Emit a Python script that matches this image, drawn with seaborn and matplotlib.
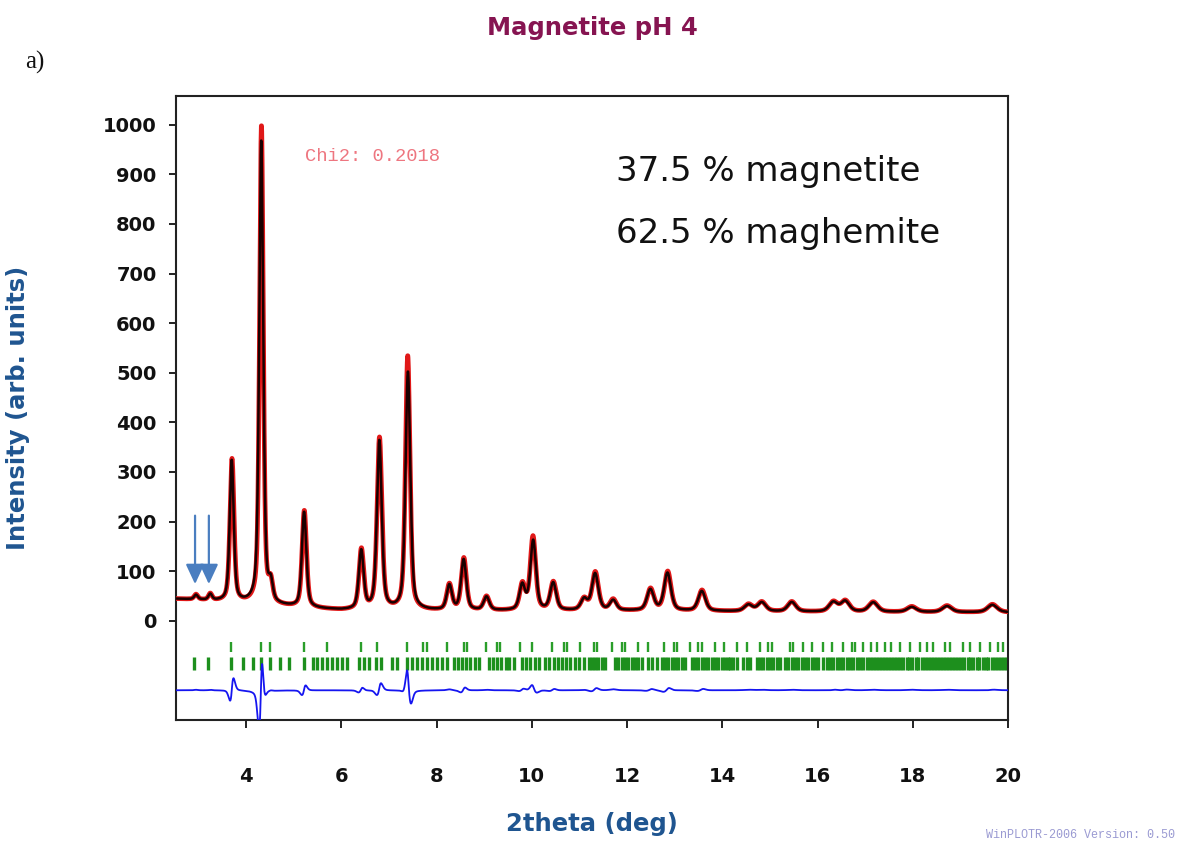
import numpy as np
import pandas as pd
import matplotlib
matplotlib.use("Agg")
import matplotlib.pyplot as plt
import seaborn as sns

# ---- Rietveld fit summary: peak list (2theta, height above background, FWHM) ----
peak_pos = [2.95, 3.25, 3.70, 4.32, 4.52, 5.22, 6.42, 6.80, 7.40, 8.27, 8.57, 9.05,
            9.80, 10.03, 10.45, 11.10, 11.33, 11.71, 12.49, 12.85, 13.57, 14.55,
            14.83, 15.46, 16.33, 16.58, 17.17, 17.98, 18.72, 19.67]
calc_height = [9, 12, 285, 935, 35, 192, 118, 340, 480, 50, 102, 27,
               50, 140, 55, 22, 74, 20, 42, 76, 40, 13,
               18, 19, 19, 21, 19, 10, 12, 15]
obs_height = [10, 13, 288, 965, 37, 195, 121, 346, 512, 52, 105, 28,
              52, 148, 57, 23, 77, 22, 44, 79, 42, 14,
              19, 20, 20, 22, 20, 11, 13, 16]
peak_fwhm = [0.09, 0.09, 0.10, 0.10, 0.10, 0.11, 0.12, 0.12, 0.12, 0.13, 0.13, 0.14,
             0.14, 0.14, 0.15, 0.16, 0.16, 0.16, 0.17, 0.17, 0.18, 0.20,
             0.20, 0.20, 0.21, 0.21, 0.22, 0.23, 0.23, 0.24]
# observed peaks: small position offsets and slightly sharper profiles than the model
obs_shift = [0, 0, 0.006, 0.004, 0, 0.004, 0.003, 0.003, -0.004, 0, 0.004, 0,
             0.004, -0.004, 0.003, 0, 0.004, 0, 0.004, 0.005, 0.005, 0,
             0, 0, 0.004, 0.004, 0, 0, 0, 0.004]
obs_sharpen = [1.0, 1.0, 1.0, 0.92, 1.0, 0.98, 0.97, 0.99, 0.93, 1.0, 0.97, 1.0,
               0.97, 0.96, 0.97, 1.0, 0.97, 1.0, 0.97, 0.96, 0.96, 1.0,
               1.0, 1.0, 0.98, 0.98, 1.0, 1.0, 1.0, 0.98]

# background anchor points
bg_x = [2.53, 3.0, 3.5, 4.0, 5.0, 6.0, 8.0, 12.0, 16.0, 20.0]
bg_y = [44, 42, 38, 34, 27, 21, 20, 20, 18, 17]

# Bragg reflection positions for the two phases
magnetite_hkl = [3.68, 4.32, 4.51, 5.22, 5.71, 6.41, 6.76, 7.39, 7.71, 7.81, 8.22, 8.57,
                 8.64, 9.03, 9.27, 9.34, 9.76, 10.01, 10.43, 10.67, 10.74, 11.02, 11.30,
                 11.37, 11.68, 11.89, 11.96, 12.24, 12.45, 12.77, 12.98, 13.05, 13.33,
                 13.50, 13.57, 13.85, 14.03, 14.30, 14.51, 14.79, 14.97, 15.04, 15.42,
                 15.49, 15.70, 15.88, 16.12, 16.30, 16.54, 16.72, 16.79, 16.96, 17.13,
                 17.24, 17.41, 17.55, 17.73, 17.94, 18.15, 18.29, 18.43, 18.67, 18.78,
                 19.06, 19.20, 19.41, 19.62, 19.79, 19.90]
maghemite_hkl = [2.91, 3.20, 3.68, 3.93, 4.14, 4.32, 4.50, 4.72, 4.91, 5.22, 5.40, 5.50,
                 5.60, 5.71, 5.81, 5.92, 6.02, 6.13, 6.37, 6.48, 6.58, 6.72, 6.83, 7.07,
                 7.18, 7.39, 7.49, 7.60, 7.70, 7.81, 7.91, 8.02, 8.12, 8.23, 8.36, 8.45,
                 8.54, 8.62, 8.71, 8.80, 8.89, 9.10, 9.18, 9.27, 9.36, 9.45, 9.53, 9.62,
                 9.80, 9.88, 9.97, 10.06, 10.16, 10.28, 10.36, 10.46, 10.55, 10.64, 10.72,
                 10.81, 10.91, 10.99, 11.09, 11.20, 11.26, 11.33, 11.40, 11.47, 11.54,
                 11.75, 11.82, 11.89, 11.96, 12.03, 12.10, 12.17, 12.24, 12.31, 12.45,
                 12.52, 12.63, 12.73, 12.80, 12.87, 12.94, 13.01, 13.08, 13.15, 13.22,
                 13.36, 13.43, 13.50, 13.57, 13.64, 13.71, 13.78, 13.85, 13.92, 13.99,
                 14.06, 14.13, 14.16, 14.23, 14.30, 14.44, 14.51, 14.58, 14.72, 14.79,
                 14.86, 14.93, 15.00, 15.07, 15.14, 15.21, 15.32, 15.39, 15.46, 15.53,
                 15.60, 15.67, 15.74, 15.81, 15.88, 15.95, 16.02, 16.12, 16.19, 16.26,
                 16.33, 16.40, 16.47, 16.54, 16.61, 16.68, 16.75, 16.82, 16.89, 16.96,
                 17.03, 17.10, 17.16, 17.22, 17.29, 17.35, 17.41, 17.48, 17.55, 17.61,
                 17.67, 17.74, 17.80, 17.87, 17.93, 17.99, 18.06, 18.12, 18.19, 18.25,
                 18.31, 18.38, 18.44, 18.51, 18.57, 18.63, 18.70, 18.76, 18.83, 18.89,
                 18.95, 19.02, 19.08, 19.15, 19.21, 19.27, 19.34, 19.40, 19.47, 19.53,
                 19.59, 19.66, 19.72, 19.79, 19.85, 19.91, 19.98]

chi2_label = "Chi2: 0.2018"
phase_labels = ["37.5 % magnetite", "62.5 % maghemite"]
y_ticks = [0, 100, 200, 300, 400, 500, 600, 700, 800, 900, 1000]
x_ticks = [4, 6, 8, 10, 12, 14, 16, 18, 20]
diff_offset = -140


def pseudo_voigt(x, centers, heights, widths, shifts=None, eta=0.5):
    y = np.zeros_like(x)
    if shifts is None:
        shifts = [0.0] * len(centers)
    for c, h, w, s in zip(centers, heights, widths, shifts):
        u = (x - (c + s)) / w
        g = np.exp(-4 * np.log(2) * u ** 2)
        lor = 1.0 / (1.0 + 4 * u ** 2)
        y += h * (eta * lor + (1 - eta) * g)
    return y


two_theta = np.arange(2.53, 20.0001, 0.004)
background = np.interp(two_theta, bg_x, bg_y)
obs_fwhm = [w * k for w, k in zip(peak_fwhm, obs_sharpen)]
y_calc = background + pseudo_voigt(two_theta, peak_pos, calc_height, peak_fwhm)
y_obs = background + pseudo_voigt(two_theta, peak_pos, obs_height, obs_fwhm, obs_shift)
y_diff = y_obs - y_calc + diff_offset

df = pd.DataFrame({"tth": two_theta, "obs": y_obs, "calc": y_calc, "diff": y_diff})

# ---- figure ----
sns.set_style("ticks")
plt.rcParams["font.family"] = ["DejaVu Sans"]

fig = plt.figure(figsize=(11.8, 8.43), dpi=100)
ax = fig.add_axes([176 / 1180, 1 - 720 / 843, 832 / 1180, 624 / 843])

sns.lineplot(data=df, x="tth", y="obs", ax=ax, color="#e01818", lw=3.4,
             sort=False, estimator=None, zorder=3)
sns.lineplot(data=df, x="tth", y="calc", ax=ax, color="#1a0000", lw=1.8,
             sort=False, estimator=None, zorder=4)
sns.lineplot(data=df, x="tth", y="diff", ax=ax, color="#1515f0", lw=1.3,
             sort=False, estimator=None, zorder=3)

# Bragg reflection markers
ax.vlines(magnetite_hkl, -63, -42, color="#2a9e2a", lw=1.7, zorder=2)
ax.vlines(maghemite_hkl, -99, -73, color="#1d8f1d", lw=2.4, zorder=2)

# arrows pointing at the two weak low-angle reflections
for xa in (2.93, 3.22):
    ax.annotate("", xy=(xa, 74), xytext=(xa, 212),
                arrowprops=dict(arrowstyle="-|>,head_width=0.28,head_length=0.6",
                                color="#4a7ec0", lw=1.6, mutation_scale=20,
                                shrinkA=0, shrinkB=0), zorder=6)

ax.set_xlim(2.53, 20.0)
ax.set_ylim(-200, 1058)
ax.set_xticks(x_ticks)
ax.set_yticks(y_ticks)
ax.set_xticklabels([str(t) for t in x_ticks], fontsize=14, fontweight="bold")
ax.set_yticklabels([str(t) for t in y_ticks], fontsize=14, fontweight="bold")
ax.tick_params(axis="x", direction="out", length=6, width=1.3, pad=28, colors="#111111")
ax.tick_params(axis="y", direction="out", length=5, width=1.3, pad=9, colors="#111111")
for sp in ax.spines.values():
    sp.set_visible(True)
    sp.set_linewidth(1.5)
    sp.set_color("#222222")

label_color = "#1f5590"
ax.set_xlabel("2theta (deg)", fontsize=17.5, fontweight="bold", color=label_color)
ax.set_ylabel("Intensity (arb. units)", fontsize=17.5, fontweight="bold", color=label_color)
ax.xaxis.set_label_coords(0.5, -0.147)
ax.yaxis.set_label_coords(-0.175, 0.5)

ax.text(5.24, 937, chi2_label, family="Liberation Mono", fontsize=13.5,
        color="#ee7680", va="center", ha="left")
ax.text(11.77, 905, phase_labels[0], fontsize=24.5, color="#111111", va="center", ha="left")
ax.text(11.77, 780, phase_labels[1], fontsize=24.5, color="#111111", va="center", ha="left")

fig.text(0.502, 1 - 28 / 843, "Magnetite pH 4", ha="center", va="center",
         fontsize=17.5, fontweight="bold", color="#861451")
fig.text(25 / 1180, 1 - 62 / 843, "a)", ha="left", va="center",
         family="Liberation Serif", fontsize=18, color="#111111")
fig.text(1175 / 1180, 1 - 835 / 843, "WinPLOTR-2006 Version: 0.50", ha="right",
         va="center", family="Liberation Mono", fontsize=8.5, color="#9a9ad2")

fig.savefig("out.png", dpi=100)
